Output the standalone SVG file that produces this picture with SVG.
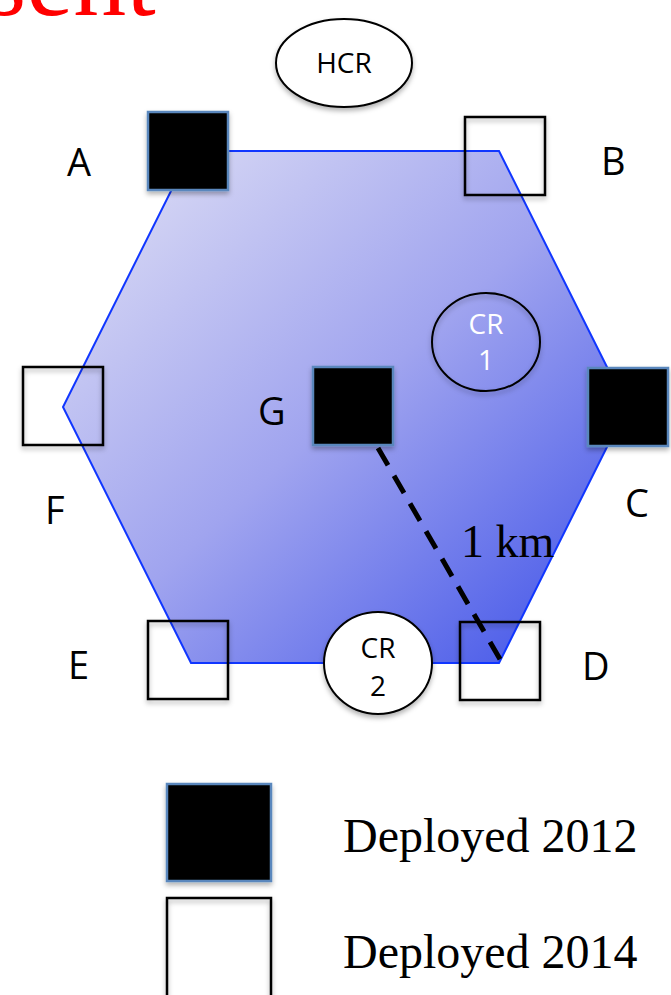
<svg xmlns="http://www.w3.org/2000/svg" width="671" height="995" viewBox="0 0 671 995">
  <defs>
    <linearGradient id="hexfill" x1="0" y1="0" x2="1" y2="1">
      <stop offset="0" stop-color="#e2e2f5"/>
      <stop offset="0.5" stop-color="#a0a4ef"/>
      <stop offset="1" stop-color="#3a4ee8"/>
    </linearGradient>
    <filter id="shadow" x="-20%" y="-20%" width="140%" height="150%">
      <feDropShadow dx="0" dy="3" stdDeviation="2.5" flood-color="#000" flood-opacity="0.3"/>
    </filter>
  </defs>
  <style>
    .lbl { font-family: "Open Sans", "DejaVu Sans", sans-serif; font-size: 38px; fill: #000; }
    .node-txt { font-family: "Open Sans", "DejaVu Sans", sans-serif; font-size: 28px; text-anchor: middle; }
    .serif { font-family: "Liberation Serif", "Times New Roman", serif; }
    .d12 { fill: #000; stroke: #5a87bd; stroke-width: 2.5; filter: url(#shadow); }
    .d14 { fill: none; stroke: #000; stroke-width: 2.5; filter: url(#shadow); }
    .ell { stroke: #000; stroke-width: 2; filter: url(#shadow); }
  </style>

  <text x="-15" y="15" class="serif" font-size="106" fill="#ff0000">sent</text>

  <g id="hexagon">
    <polygon points="191,151 499,151 627,407 499,663 191,663 63,407" fill="url(#hexfill)" stroke="#1036ff" stroke-width="2"/>
  </g>

  <g id="HCR">
    <ellipse cx="344" cy="63" rx="68" ry="44" fill="#fff" class="ell"/>
    <text x="344" y="73" class="node-txt" fill="#000">HCR</text>
  </g>

  <g id="CR1">
    <ellipse cx="486" cy="342" rx="54" ry="49" fill="none" class="ell"/>
    <text x="486" y="334" class="node-txt" fill="#fff">CR</text>
    <text x="486" y="370" class="node-txt" fill="#fff">1</text>
  </g>

  <g id="connectors">
    <line x1="378" y1="448" x2="501" y2="661" stroke="#000" stroke-width="5" stroke-dasharray="20,12"/>
  </g>

  <g id="CR2">
    <ellipse cx="378" cy="663" rx="54" ry="51" fill="#fff" class="ell"/>
    <text x="378" y="658" class="node-txt" fill="#000">CR</text>
    <text x="378" y="696" class="node-txt" fill="#000">2</text>
  </g>

  <g id="A">
    <rect x="148" y="112" width="80" height="78" class="d12"/>
    <text x="67" y="176" class="lbl">A</text>
  </g>
  <g id="B">
    <rect x="465" y="117" width="80" height="78" class="d14"/>
    <text x="601" y="175" class="lbl">B</text>
  </g>
  <g id="C">
    <rect x="588" y="368" width="80" height="78" class="d12"/>
    <text x="625" y="517" class="lbl">C</text>
  </g>
  <g id="D">
    <rect x="460" y="622" width="80" height="78" class="d14"/>
    <text x="582" y="680" class="lbl">D</text>
  </g>
  <g id="E">
    <rect x="148" y="621" width="80" height="78" class="d14"/>
    <text x="68" y="679" class="lbl">E</text>
  </g>
  <g id="F">
    <rect x="23" y="367" width="80" height="78" class="d14"/>
    <text x="45" y="524" class="lbl">F</text>
  </g>
  <g id="G">
    <rect x="313" y="367" width="80" height="78" class="d12"/>
    <text x="258" y="425" class="lbl">G</text>
  </g>

  <text x="461" y="557" class="serif" font-size="46" fill="#000">1 km</text>

  <g id="legend">
    <rect x="167" y="784" width="104" height="97" class="d12"/>
    <rect x="167" y="898" width="104" height="110" class="d14"/>
    <text x="343" y="852" class="serif" font-size="48" fill="#000">Deployed 2012</text>
    <text x="343" y="968" class="serif" font-size="48" fill="#000">Deployed 2014</text>
  </g>
</svg>
